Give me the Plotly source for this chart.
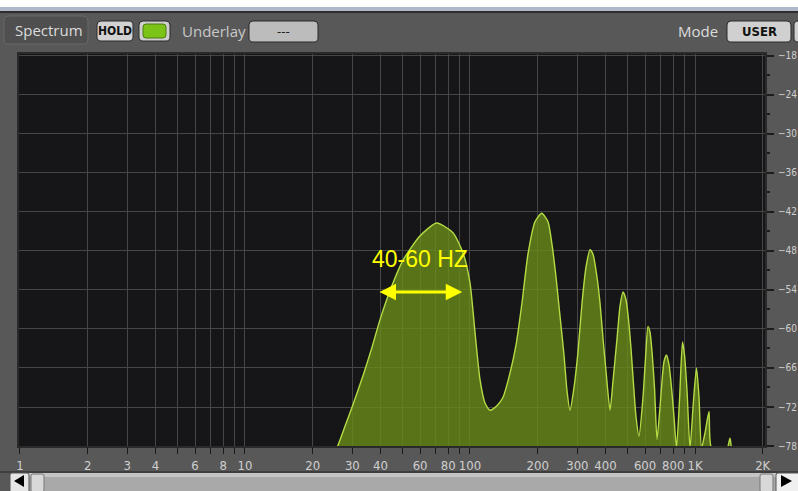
import math
import plotly.graph_objects as go

# spectrum (Hz, dB)
freq_hz = [24, 25.6, 27.8, 30.3, 33.6, 36.7, 39.8, 44.9, 50.4, 59.9, 71.1, 84.0, 93.1, 100,
           105.3, 110.8, 116.6, 122.7, 131.8, 140.2, 150.6, 160.1, 170.2, 181.0, 194.5, 208.3,
           222.2, 231.4, 241.1, 251.2, 261.7, 269.8, 278.3, 289.9, 302.0, 314.7, 327.8, 341.5,
           352.1, 366.8, 378.3, 390.2, 402.3, 419.1, 432.2, 450.2, 464.2, 478.6, 493.6, 506.3,
           519.5, 533.0, 546.8, 563.8, 587.4, 602.6, 618.2, 631.0, 644.1, 660.7, 677.8, 699.0,
           713.5, 728.3, 747.2, 766.3, 786.2, 806.6, 827.5, 853.3, 879.9, 898.2, 921.5, 950.2,
           984.8, 1015.5, 1041.8, 1068.8, 1107.7, 1154.0, 1184.1, 1373, 1430.5, 1475.4, 1945]
level_db = [-80, -78.3, -75, -71.5, -67, -62.8, -58.6, -53.4, -49.4, -45.7, -43.7, -45.2, -48.3, -52.9,
            -60.6, -67.8, -71.4, -72.5, -71.8, -70.5, -66.8, -62.5, -56, -48.5, -43.5, -42.2,
            -43.5, -47, -52, -58, -64, -69.5, -72.5, -69, -63.5, -56, -50.5, -47.8,
            -48.5, -52, -56, -61.5, -66.5, -72.5, -68, -61.5, -56.5, -54.3, -55.5, -58.5,
            -63, -68.5, -73.5, -76.5, -70.5, -64.5, -59.6, -60.5, -63.5, -69, -77, -72,
            -68, -65, -64, -65.5, -69, -73.5, -78.3, -71, -62, -64, -69.5, -78.3,
            -71, -66, -70.5, -78.3, -76, -72.7, -78.3, -79, -76.8, -79, -79]

x_ticks = [1, 2, 3, 4, 5, 6, 7, 8, 9, 10, 20, 30, 40, 50, 60, 70, 80, 90,
           100, 200, 300, 400, 500, 600, 700, 800, 900, 1000, 2000]
x_labels = ["1", "2", "3", "4", "", "6", "", "8", "", "10", "20", "30", "40", "", "60", "", "80", "",
            "100", "200", "300", "400", "", "600", "", "800", "", "1K", "2K"]
y_ticks = [-18, -24, -30, -36, -42, -48, -54, -60, -66, -72, -78]

NARROW = "DejaVu Sans Condensed, Liberation Sans Narrow, Arial Narrow, sans-serif"

# plot area in pixels
PL, PT, PR, PB = 19, 54, 765, 446
W, H = 798, 491


def px(x):
    return (x - PL) / (PR - PL)


def py(y):
    return (PB - y) / (PB - PT)


def rrect(x0, y0, x1, y1, r=4):
    # rounded rect path, pixel coords -> paper coords
    pts = [
        ("M", x0 + r, y0), ("L", x1 - r, y0), ("Q", x1, y0, x1, y0 + r),
        ("L", x1, y1 - r), ("Q", x1, y1, x1 - r, y1), ("L", x0 + r, y1),
        ("Q", x0, y1, x0, y1 - r), ("L", x0, y0 + r), ("Q", x0, y0, x0 + r, y0),
    ]
    s = ""
    for p in pts:
        if p[0] == "Q":
            s += f"Q{px(p[1]):.5f},{py(p[2]):.5f} {px(p[3]):.5f},{py(p[4]):.5f} "
        else:
            s += f"{p[0]}{px(p[1]):.5f},{py(p[2]):.5f} "
    return s + "Z"


def rect(x0, y0, x1, y1, color):
    return dict(type="rect", xref="paper", yref="paper", layer="below",
                x0=px(x0), x1=px(x1), y0=py(y1), y1=py(y0),
                fillcolor=color, line=dict(width=0))


def path(d, color, line=None, width=0):
    return dict(type="path", xref="paper", yref="paper", path=d, layer="above",
                fillcolor=color, line=dict(width=width, color=line or color))


fig = go.Figure()

fig.add_trace(go.Scatter(x=freq_hz, y=[-80] * len(freq_hz), mode="lines",
                         line=dict(width=0), hoverinfo="skip", showlegend=False))
fig.add_trace(go.Scatter(x=freq_hz, y=level_db, mode="lines", fill="tonexty",
                         fillcolor="rgba(108,142,24,0.78)",
                         line=dict(color="#b6dc45", width=1.4, shape="spline", smoothing=0.6),
                         showlegend=False))

shapes = [
    # top strip
    rect(-5, -5, W + 5, 7, "#ffffff"),
    rect(-5, 7, W + 5, 11, "#aeb8c8"),
    rect(-5, 11, W + 5, 13, "#2c2c2c"),
    # bottom scrollbar
    rect(-5, 471, W + 5, 473, "#3e3e3e"),
    rect(28, 473, 776, W, "#a9a9a9"),
    rect(28, 473, 776, 477, "#c4c4c4"),
]
shapes += [
    # frame around the plot area
    dict(type="rect", xref="paper", yref="paper", x0=px(PL - 1), x1=px(PR + 1),
         y0=py(PB + 1), y1=py(PT - 1), line=dict(color="#2a2a2a", width=2), layer="above"),
    path(rrect(4, 16, 88, 44, 5), "#4f4f4f", "#6a6a6a", 1),
    path(rrect(97, 21, 133, 41, 4), "#d2d2d2", "#2a2a2a", 1),
    path(rrect(139, 21, 170, 41, 4), "#cfcfcf", "#2a2a2a", 1),
    path(rrect(143, 24, 166, 38, 3), "#7cc318", "#4c7a10", 1),
    path(rrect(249, 21, 318, 42, 4), "#bcbcbc", "#2a2a2a", 1),
    path(rrect(727, 21, 791, 42, 4), "#d0d0d0", "#2a2a2a", 1),
    path(rrect(794, 21, 808, 42, 4), "#d0d0d0", "#2a2a2a", 1),
    # scroll buttons
    path(rrect(10, 473, 29, 494, 2), "#e6e6e6", "#555555", 1),
    path(rrect(31, 474, 44, 492, 2), "#d8d8d8", "#777777", 1),
    path(rrect(760, 474, 773, 492, 2), "#d8d8d8", "#777777", 1),
    path(rrect(776, 473, 803, 494, 2), "#f0f0f0", "#555555", 1),
    path(f"M{px(14)},{py(481)} L{px(24)},{py(475)} L{px(24)},{py(487)} Z", "#000000"),
    path(f"M{px(792)},{py(481)} L{px(781)},{py(475)} L{px(781)},{py(487)} Z", "#000000"),
]

annotations = [
    dict(text="Spectrum", x=px(13), y=py(30), xanchor="left", yanchor="middle",
         font=dict(family="Open Sans", size=15, color="#dcdcdc")),
    dict(text="<b>HOLD</b>", x=px(115), y=py(31), xanchor="center", yanchor="middle",
         font=dict(family=NARROW, size=12, color="#111111")),
    dict(text="Underlay", x=px(180), y=py(31), xanchor="left", yanchor="middle",
         font=dict(family="Open Sans", size=15, color="#c8c8c8")),
    dict(text="---", x=px(283), y=py(31), xanchor="center", yanchor="middle",
         font=dict(family=NARROW, size=13, color="#222222")),
    dict(text="Mode", x=px(720), y=py(31), xanchor="right", yanchor="middle",
         font=dict(family="Open Sans", size=15, color="#dcdcdc")),
    dict(text="<b>USER</b>", x=px(759), y=py(31), xanchor="center", yanchor="middle",
         font=dict(family=NARROW, size=13, color="#111111")),
    # marker on the low lobe
    dict(text="40-60 HZ", x=math.log10(59.9), y=-49.2, xref="x", yref="y",
         xanchor="center", yanchor="middle", showarrow=False,
         font=dict(family="Liberation Sans", size=23, color="#ffff00")),
    dict(text="", x=math.log10(92.4), y=-54.3, ax=math.log10(39.0), ay=-54.3,
         xref="x", yref="y", axref="x", ayref="y", showarrow=True,
         arrowhead=2, startarrowhead=2, arrowside="end+start",
         arrowsize=1.1, startarrowsize=1.1, arrowwidth=3, arrowcolor="#ffff00"),
]
for a in annotations[:6]:
    a.update(xref="paper", yref="paper", showarrow=False)

fig.update_layout(
    width=W, height=H,
    margin=dict(l=PL, r=W - PR, t=PT, b=H - PB, pad=0, autoexpand=False),
    paper_bgcolor="#585858", plot_bgcolor="#161618",
    showlegend=False, shapes=shapes, annotations=annotations,
)
fig.update_xaxes(type="log", range=[math.log10(0.99), math.log10(2047)],
                 tickvals=x_ticks, ticktext=x_labels, automargin=False,
                 showgrid=True, gridcolor="#464646", gridwidth=1, zeroline=False,
                 ticks="outside", ticklen=7, tickcolor="#1c1c1c", tickwidth=1,
                 tickfont=dict(family=NARROW, size=13, color="#cfcfcf"),
                 showline=False, fixedrange=True)
fig.update_yaxes(range=[-78, -17.7], side="right", tickvals=y_ticks, automargin=False,
                 showgrid=True, gridcolor="#464646", gridwidth=1, zeroline=False,
                 ticks="outside", ticklen=8, tickcolor="#1c1c1c", tickwidth=2,
                 ticklabelstandoff=2,
                 minor=dict(tick0=-21, dtick=6, ticks="outside", ticklen=4,
                            tickcolor="#1c1c1c", showgrid=False),
                 tickfont=dict(family=NARROW, size=10, color="#cfcfcf"),
                 showline=False, fixedrange=True)

# the page's default body margin would push the figure 8px off the window
fig.write_html("out.html", config=dict(displayModeBar=False),
               post_script="document.body.style.margin='0';document.body.style.overflow='hidden';")
